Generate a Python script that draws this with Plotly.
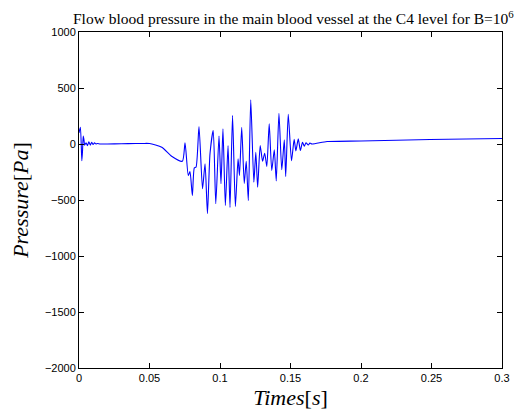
import plotly.graph_objects as go

# time (s) and pressure (Pa)
time_s = [0.0, 0.001, 0.002, 0.0025, 0.003, 0.0035, 0.004, 0.005, 0.006, 0.007, 0.008,
          0.009, 0.010, 0.011, 0.012, 0.013, 0.015, 0.02, 0.03, 0.04, 0.046, 0.050,
          0.0587, 0.0657, 0.0733, 0.0752, 0.0775, 0.0787, 0.0804, 0.0818, 0.0830,
          0.0851, 0.0876, 0.0894, 0.0911, 0.0929, 0.0952, 0.0970, 0.0993, 0.1007,
          0.1021, 0.1038, 0.1057, 0.1071, 0.1089, 0.1109, 0.1128, 0.1138, 0.1154,
          0.1172, 0.1186, 0.1201, 0.1218, 0.1240, 0.1254, 0.1267, 0.1285, 0.1302,
          0.1317, 0.1332, 0.1349, 0.1367, 0.1385, 0.1399, 0.1418, 0.1438, 0.1456,
          0.1466, 0.1484, 0.1507, 0.1526, 0.1538, 0.1555, 0.1570, 0.1585, 0.1598,
          0.1610, 0.1626, 0.1638, 0.1652, 0.1759, 0.2, 0.249, 0.3]
pressure_pa = [100, 150, -150, -60, 70, 40, -10, 10, -15, 20, -10,
               15, -5, 10, 0, 5, 0, 0, 2, 4, 5, 4,
               -29, -109, -154, 11, -281, -246, -460, -213, -207,
               156, -400, -177, -621, -88, 121, -534, 70, -355,
               136, -549, -13, -567, 255, -558, -132, -281, 150,
               -353, -154, -505, 395, -341, -73, -386, -13, -154,
               -82, -201, 180, -237, -52, -329, 275, -230, 38,
               -290, 266, -150, 42, -61, 46, -58, 16, -20,
               11, -9, 9, 0, 22, 27, 40, 49]

x_ticks = [0, 0.05, 0.1, 0.15, 0.2, 0.25, 0.3]
x_tick_labels = ["0", "0.05", "0.1", "0.15", "0.2", "0.25", "0.3"]
y_ticks = [-2000, -1500, -1000, -500, 0, 500, 1000]
y_tick_labels = ["\u22122000", "\u22121500", "\u22121000", "\u2212500", "0", "500", "1000"]

fig = go.Figure()
fig.add_trace(go.Scatter(
    x=time_s, y=pressure_pa, mode="lines",
    line=dict(color="#0000ff", width=1.1, shape="spline", smoothing=0.6),
    showlegend=False,
))

axis_common = dict(
    showline=True, mirror="allticks", linecolor="black", linewidth=1,
    ticks="inside", ticklen=5, tickcolor="black", tickwidth=1,
    showgrid=False, zeroline=False, automargin=False,
    tickfont=dict(family="Liberation Sans, Arial, sans-serif", size=11, color="black"),
)

fig.update_layout(
    width=517, height=408,
    margin=dict(l=71, r=23, t=24, b=48, autoexpand=False),
    paper_bgcolor="white", plot_bgcolor="white",
    title=dict(
        text="Flow blood pressure in the main blood vessel at the C4 level for B=10<sup>6</sup>",
        x=0.552, xanchor="center", xref="container", y=0.973, yref="container", yanchor="middle",
        font=dict(family="Liberation Serif, Times New Roman, serif", size=15.5, color="black"),
    ),
    xaxis=dict(
        range=[0, 0.3], tickvals=x_ticks, ticktext=x_tick_labels,
        title=dict(text="<i>Times</i>[<i>s</i>]", standoff=6,
                   font=dict(family="Liberation Serif, Times New Roman, serif", size=22, color="black")),
        **axis_common,
    ),
    yaxis=dict(
        range=[-2000, 1000], tickvals=y_ticks, ticktext=y_tick_labels,
        title=dict(text="<i>Pressure</i>[<i>Pa</i>]", standoff=13,
                   font=dict(family="Liberation Serif, Times New Roman, serif", size=22, color="black")),
        **axis_common,
    ),
)

fig.write_html("out.html")
